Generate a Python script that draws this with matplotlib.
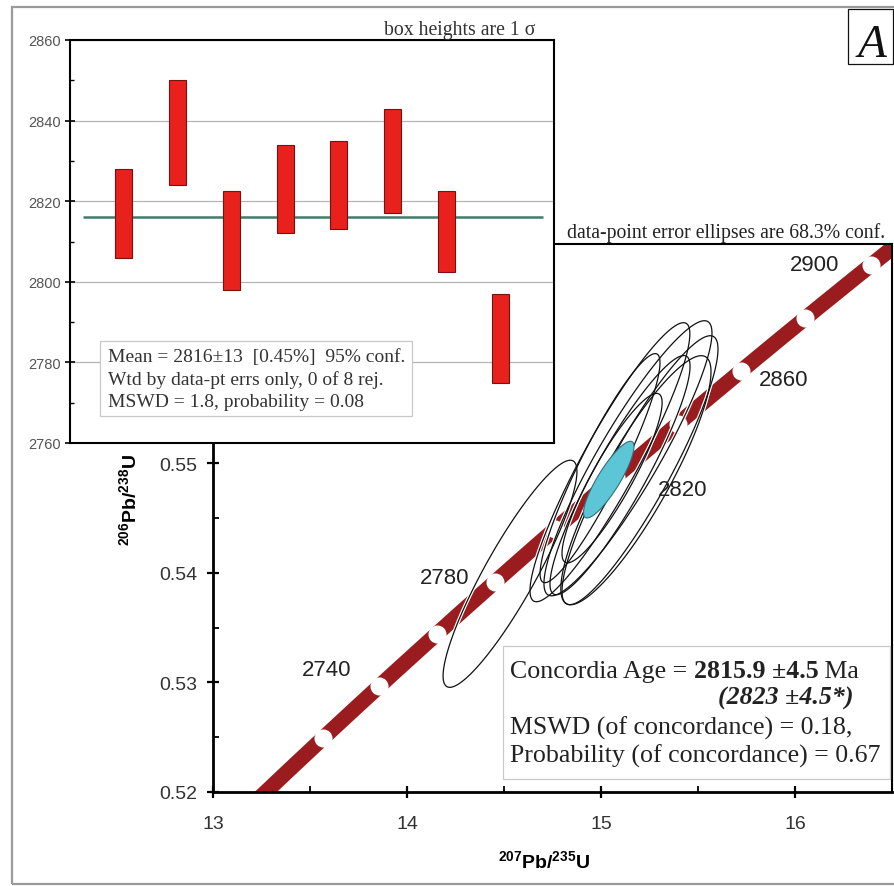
import numpy as np
import matplotlib.pyplot as plt
from matplotlib.patches import Rectangle, Polygon

plt.rcParams['mathtext.fontset'] = 'custom'
plt.rcParams['mathtext.rm'] = 'Liberation Sans'
plt.rcParams['mathtext.bf'] = 'Liberation Sans:bold'

W, H = 895, 887
SERIF = 'Liberation Serif'
SANS = 'Liberation Sans'

# weighted-mean inset: 1 sigma box tops / bottoms (Ma)
spot = [1, 2, 3, 4, 5, 6, 7, 8]
age_top = [2828, 2850, 2822.5, 2834, 2835, 2843, 2822.5, 2797]
age_bot = [2806, 2824, 2798, 2812, 2813, 2817, 2802.5, 2775]
mean_age = 2816

# data-point ellipses: 207Pb/235U, 206Pb/238U, half extents, correlation
ell_x = [14.531, 15.046, 15.139, 15.201, 15.098, 14.995, 15.057, 15.180]
ell_xerr = [0.345, 0.412, 0.433, 0.402, 0.361, 0.309, 0.258, 0.387]
ell_y = [0.53991, 0.55009, 0.55045, 0.54936, 0.54891, 0.54955, 0.54864, 0.54845]
ell_yerr = [0.01036, 0.01273, 0.01255, 0.01227, 0.01091, 0.01045, 0.00773, 0.01136]
ell_rho = [0.90, 0.92, 0.91, 0.90, 0.91, 0.92, 0.89, 0.87]

# concordia age ellipse
conc_x, conc_xerr = 15.04, 0.13
conc_y, conc_yerr = 0.5485, 0.0035
conc_rho = 0.86

# concordia curve ages (Ma)
marker_ages = [2720, 2740, 2760, 2780, 2800, 2820, 2840, 2860, 2880, 2900]
label_ages = [2740, 2780, 2820, 2860, 2900]
label_off = [(-38, 12), (-36, 3), (48, -9), (31, -6), (-41, 0)]

L238 = 1.55125e-4  # per Ma
L235 = 9.8485e-4


def concordia(t):
    t = np.asarray(t, dtype=float)
    return np.exp(L235 * t) - 1, np.exp(L238 * t) - 1


def ellipse_xy(cx, ex, cy, ey, rho, n=240):
    a = np.linspace(0, 2 * np.pi, n)
    x = cx + ex * np.cos(a)
    y = cy + ey * (rho * np.cos(a) + np.sqrt(1 - rho ** 2) * np.sin(a))
    return np.column_stack([x, y])


def fx(px):
    return px / W


def fy(py):
    return 1 - py / H


fig = plt.figure(figsize=(W / 100, H / 100), dpi=100)

# outer frame
fig.add_artist(Rectangle((fx(12), fy(885)), 1.2, (885 - 8) / H, transform=fig.transFigure,
                         fill=False, edgecolor='#9a9a9a', lw=1.6))

# ---------------- main concordia axes ----------------
ax = fig.add_axes([fx(213), fy(793), 679 / W, 548 / H])
ax.set_xlim(13, 16.5)
ax.set_ylim(0.52, 0.57)
ax.set_xticks([13, 14, 15, 16])
ax.set_xticks([13.5, 14.5, 15.5, 16.5], minor=True)
ax.set_yticks([0.52, 0.53, 0.54, 0.55, 0.56, 0.57])
ax.set_yticks([0.525, 0.535, 0.545, 0.555, 0.565], minor=True)
# 0.56 / 0.57 sit behind the inset
ax.set_yticklabels(['0.52', '0.53', '0.54', '0.55', '', ''])
ax.tick_params(which='major', direction='inout', length=9, width=1.6, labelsize=14,
               labelcolor='#333333')
ax.tick_params(axis='x', which='major', pad=12)
ax.tick_params(axis='y', which='major', pad=7)
ax.tick_params(which='minor', direction='in', length=4, width=1.3)
for lab in ax.get_xticklabels() + ax.get_yticklabels():
    lab.set_family(SANS)
for s in ['left', 'bottom']:
    ax.spines[s].set_linewidth(2.0)
for s in ['top', 'right']:
    ax.spines[s].set_linewidth(1.5)

tc = np.linspace(2650, 2960, 500)
cx_, cy_ = concordia(tc)
ax.plot(cx_, cy_, color='#9b1c1f', lw=11, solid_capstyle='butt', zorder=2)
mx, my = concordia(marker_ages)
ax.plot(mx, my, 'o', ms=13, mfc='white', mec='none', zorder=3)
lx, ly = concordia(label_ages)
for a, x, y, off in zip(label_ages, lx, ly, label_off):
    ax.annotate(str(a), (x, y), xytext=off, textcoords='offset points', ha='center',
                va='center', fontsize=16, family=SANS, color='#222222', zorder=7)

for x, ex, y, ey, r in zip(ell_x, ell_xerr, ell_y, ell_yerr, ell_rho):
    pts = ellipse_xy(x, ex, y, ey, r)
    ax.add_patch(Polygon(pts, closed=True, fill=False, edgecolor='white', lw=2.6, zorder=4))
for x, ex, y, ey, r in zip(ell_x, ell_xerr, ell_y, ell_yerr, ell_rho):
    pts = ellipse_xy(x, ex, y, ey, r)
    ax.add_patch(Polygon(pts, closed=True, fill=False, edgecolor='#111111', lw=0.9, zorder=5))
ax.add_patch(Polygon(ellipse_xy(conc_x, conc_xerr, conc_y, conc_yerr, conc_rho), closed=True,
                     facecolor='#5cc6d6', edgecolor='#2f6f78', lw=0.8, zorder=6))

ax.set_xlabel(r'$\mathbf{{}^{207}Pb/{}^{235}U}$', fontsize=14)
ax.set_ylabel(r'$\mathbf{{}^{206}Pb/{}^{238}U}$', fontsize=14)
ax.xaxis.set_label_coords((544 - 213) / 679, (793 - 850) / 548)
ax.yaxis.set_label_coords((140 - 213) / 679, (793 - 500) / 548)

fig.text(fx(885), fy(238), 'data-point error ellipses are 68.3% conf.', ha='right',
         va='baseline', fontsize=14.2, family=SERIF, color='#222222')

# ---------------- weighted mean inset ----------------
ins = fig.add_axes([fx(70), fy(444), 484 / W, 403 / H])
ins.set_facecolor('white')
ins.set_xlim(0, 9)
ins.set_ylim(2760, 2860)
ins.set_xticks([])
ins.set_yticks([2760, 2780, 2800, 2820, 2840, 2860])
ins.set_yticks([2770, 2790, 2810, 2830, 2850], minor=True)
ins.yaxis.grid(True, which='major', color='#b5b5b5', lw=0.9)
ins.set_axisbelow(True)
ins.tick_params(which='major', direction='inout', length=7, width=1.2, labelsize=10.5,
                labelcolor='#555555', pad=3)
ins.tick_params(which='minor', direction='in', length=3, width=1.0)
for lab in ins.get_yticklabels():
    lab.set_family(SANS)
for s in ins.spines.values():
    s.set_linewidth(1.5)

heights = [t - b for t, b in zip(age_top, age_bot)]
ins.bar(spot, heights, bottom=age_bot, width=0.32, color='#e8211d', edgecolor='#7a1010',
        lw=0.8, zorder=3)
ins.hlines(mean_age, 0.25, 8.8, color='#3d7d6c', lw=1.8, zorder=2)

fig.text(fx(535), fy(35), 'box heights are 1 \u03c3', ha='right', va='baseline',
         fontsize=14.2, family=SERIF, color='#333333')

# legend box in inset
fig.add_artist(Rectangle((fx(100), fy(417)), 312 / W, 75 / H, transform=fig.transFigure,
                         facecolor='white', edgecolor='#c8c8c8', lw=0.9, zorder=5))
for txt, yb in zip(['Mean = 2816\u00b113  [0.45%]  95% conf.',
                    'Wtd by data-pt errs only, 0 of 8 rej.',
                    'MSWD = 1.8, probability = 0.08'], [362, 385, 407]):
    fig.text(fx(108), fy(yb), txt, ha='left', va='baseline', fontsize=14,
             family=SERIF, color='#333333', zorder=6)

# ---------------- concordia age box ----------------
fig.add_artist(Rectangle((fx(503), fy(780)), 387 / W, 133 / H, transform=fig.transFigure,
                         facecolor='white', edgecolor='#c8c8c8', lw=0.9, zorder=5))
renderer = fig.canvas.get_renderer()


def rich(x, y, parts, size):
    for s, w, st in parts:
        t = fig.text(fx(x), fy(y), s, ha='left', va='baseline', fontsize=size, fontweight=w,
                     fontstyle=st, family=SERIF, color='#222222', zorder=6)
        x += t.get_window_extent(renderer).width


rich(510, 678, [('Concordia Age = ', 'normal', 'normal'),
                ('2815.9 \u00b14.5', 'bold', 'normal'),
                (' Ma', 'normal', 'normal')], 18.6)
rich(718, 705, [('(2823 \u00b14.5*)', 'bold', 'italic')], 18.6)
rich(510, 735, [('MSWD (of concordance) = 0.18,', 'normal', 'normal')], 18.6)
rich(510, 763, [('Probability (of concordance) = 0.67', 'normal', 'normal')], 18.6)

# panel letter
fig.add_artist(Rectangle((fx(848), fy(65)), 45 / W, 55 / H, transform=fig.transFigure,
                         fill=False, edgecolor='#111111', lw=0.9))
fig.text(fx(872), fy(57), 'A', ha='center', va='baseline', fontsize=34, fontstyle='italic',
         family=SERIF, color='#111111')

fig.savefig('out.png', dpi=100)
